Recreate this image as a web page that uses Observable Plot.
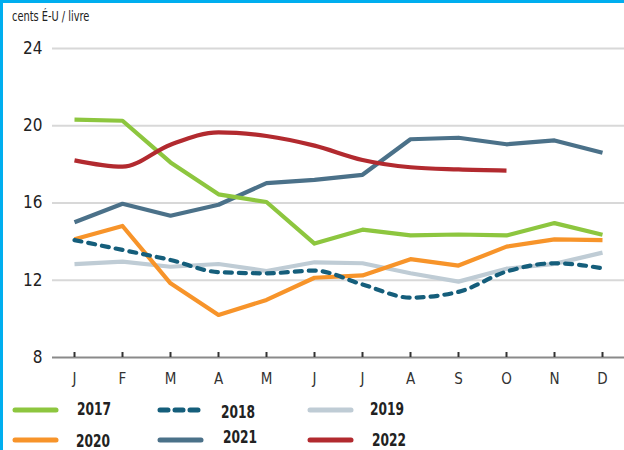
<!DOCTYPE html>
<html>
<head>
<meta charset="utf-8">
<script src="https://cdn.jsdelivr.net/npm/d3@7"></script>
<script src="https://cdn.jsdelivr.net/npm/@observablehq/plot@0.6"></script>
<style>
  html, body { margin: 0; padding: 0; background: #fff; }
  body { width: 624px; height: 450px; overflow: hidden; position: relative;
         font-family: "DejaVu Sans Condensed", "DejaVu Sans", sans-serif; font-stretch: condensed; }
  #frame { position: absolute; left: 0; top: 0; width: 621px; height: 447px;
           border-left: 3px solid #00aeef; border-top: 3px solid #00aeef; }
  #unit { position: absolute; left: 12px; top: 8px; font-size: 14px; color: #222;
          transform: scaleX(0.78); transform-origin: left center; white-space: nowrap; }
  #chart { position: absolute; left: 0; top: 0; }
  #chart svg { font-stretch: condensed; }
  #legend { position: absolute; left: 0; top: 395px; width: 624px; height: 55px; }
  .item { position: absolute; display: flex; align-items: center;
          transform: scaleX(0.8); transform-origin: left center; }
  .item span { font-weight: bold; font-size: 17px; color: #222; }
</style>
</head>
<body>
<div id="frame"></div>
<div id="chart"></div>
<div id="unit">cents É-U / livre</div>
<div id="legend"></div>
<script>
const months = ["J","F","M","A","M","J","J","A","S","O","N","D"];
const yTicks = [8, 12, 16, 20, 24];
const years = ["2017","2018","2019","2020","2021","2022"];
const v2017 = [20.32, 20.26, 18.1, 16.45, 16.05, 13.9, 14.62, 14.32, 14.37, 14.32, 14.96, 14.36];
const v2018 = [14.08, 13.57, 13.05, 12.42, 12.36, 12.5, 11.78, 11.1, 11.4, 12.45, 12.88, 12.62];
const v2019 = [12.83, 12.96, 12.7, 12.84, 12.48, 12.93, 12.88, 12.36, 11.93, 12.6, 12.85, 13.43];
const v2020 = [14.12, 14.81, 11.84, 10.2, 10.98, 12.13, 12.25, 13.09, 12.76, 13.74, 14.12, 14.08];
const v2021 = [15.0, 15.96, 15.34, 15.91, 17.03, 17.2, 17.46, 19.3, 19.38, 19.04, 19.24, 18.6];
const v2022 = [18.21, 17.88, 19.02, 19.66, 19.47, 18.97, 18.23, 17.85, 17.74, 17.68, null, null];

const series = {"2017": v2017, "2018": v2018, "2019": v2019, "2020": v2020, "2021": v2021, "2022": v2022};
const colors = {"2017": "#8dc63f", "2018": "#155e7b", "2019": "#bfccd5", "2020": "#f7942a", "2021": "#4b7189", "2022": "#b22a2f"};
const order = ["2019", "2020", "2018", "2021", "2017", "2022"];

const rows = [];
for (const y of years) {
  series[y].forEach((v, i) => { if (v != null) rows.push({year: y, m: i, v}); });
}
const idx = months.map((_, i) => i);

const lineMarks = order.map(y => Plot.line(rows.filter(r => r.year === y), {
  x: "m", y: "v", stroke: colors[y], strokeWidth: 4.2,
  strokeLinecap: y === "2018" ? "round" : "butt",
  strokeLinejoin: "round",
  strokeDasharray: y === "2018" ? "7,7" : null,
  curve: (y === "2018" || y === "2022") ? "monotone-x" : "linear"
}));

const chart = Plot.plot({
  width: 624, height: 395,
  marginLeft: 52, marginRight: 0, marginTop: 48, marginBottom: 38,
  style: {fontFamily: '"DejaVu Sans Condensed", "DejaVu Sans", sans-serif', background: "transparent"},
  x: {type: "linear", domain: [-0.4583, 11.4583]},
  y: {domain: [8, 24]},
  marks: [
    Plot.ruleY(yTicks.filter(t => t > 8), {y: d => d, stroke: "#d8d8d8", strokeWidth: 2}),
    Plot.ruleY([8], {stroke: "#8a8a8a", strokeWidth: 2}),
    Plot.axisY({ticks: yTicks, tickSize: 0, tickPadding: 10, fontSize: 17, color: "#222", label: null}),
    Plot.axisX({ticks: idx, tickFormat: i => months[i], tickSize: 5, dy: -5, tickPadding: 16, strokeWidth: 2, fontSize: 15, color: "#333", label: null}),
    ...lineMarks
  ]
});
document.getElementById("chart").appendChild(chart);

// legend
const legendPos = {
  "2017": [15, 15, 77, 16], "2018": [160, 15, 221, 19], "2019": [310, 15, 370, 16],
  "2020": [15, 45, 76, 48], "2021": [160, 45, 223, 44], "2022": [310, 45, 372, 47]
};
const lg = document.getElementById("legend");
for (const y of years) {
  const [sx, sy, tx, ty] = legendPos[y];
  const ns = "http://www.w3.org/2000/svg";
  const svg = document.createElementNS(ns, "svg");
  svg.setAttribute("width", 50); svg.setAttribute("height", 10);
  svg.style.position = "absolute"; svg.style.left = (sx - 4) + "px"; svg.style.top = (sy - 5) + "px";
  const ln = document.createElementNS(ns, "line");
  ln.setAttribute("x1", 4); ln.setAttribute("x2", 45); ln.setAttribute("y1", 5); ln.setAttribute("y2", 5);
  ln.setAttribute("stroke", colors[y]); ln.setAttribute("stroke-width", 5);
  ln.setAttribute("stroke-linecap", "round");
  if (y === "2018") ln.setAttribute("stroke-dasharray", "8,7");
  svg.appendChild(ln);
  lg.appendChild(svg);
  const t = document.createElement("div");
  t.className = "item";
  t.style.left = tx + "px"; t.style.top = (ty - 12) + "px";
  t.innerHTML = "<span>" + y + "</span>";
  lg.appendChild(t);
}
</script>
</body>
</html>
